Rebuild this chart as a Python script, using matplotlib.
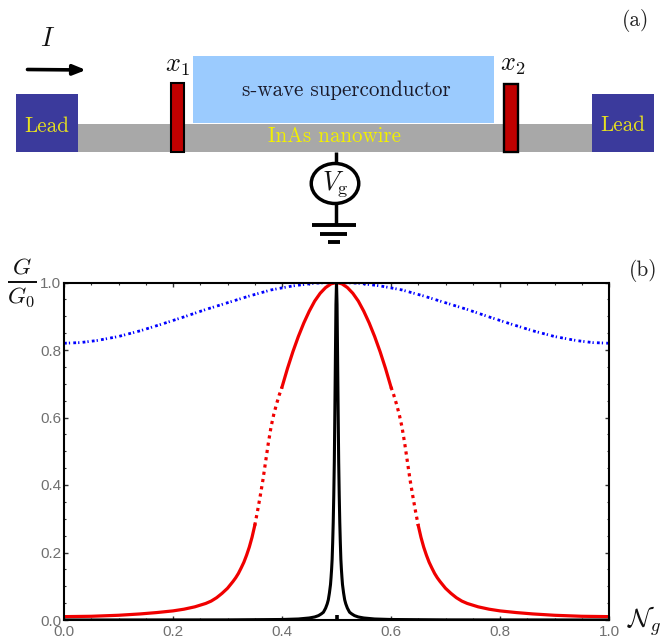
import matplotlib

matplotlib.use("Agg")
import matplotlib.pyplot as plt
from matplotlib.patches import Ellipse, Rectangle

plt.rcParams["mathtext.fontset"] = "cm"

WIDTH, HEIGHT = 662, 639

# conductance curves
blue_x = [0.0, 0.03, 0.06, 0.1, 0.14, 0.18, 0.22, 0.26, 0.3, 0.34, 0.38, 0.42, 0.46, 0.5,
          0.54, 0.58, 0.62, 0.66, 0.7, 0.74, 0.78, 0.82, 0.86, 0.9, 0.94, 0.97, 1.0]
blue_y = [0.820, 0.822, 0.828, 0.840, 0.857, 0.877, 0.898, 0.920, 0.940, 0.960, 0.978, 0.990, 0.998, 1.0,
          0.998, 0.990, 0.978, 0.960, 0.940, 0.920, 0.898, 0.877, 0.857, 0.840, 0.828, 0.822, 0.820]

red_left_x = [0.0, 0.05, 0.1, 0.14, 0.17, 0.2, 0.22, 0.24, 0.26, 0.27, 0.28, 0.29, 0.3, 0.305, 0.31,
              0.315, 0.32, 0.325, 0.33, 0.335, 0.34, 0.345, 0.35]
red_left_y = [0.010, 0.011, 0.014, 0.018, 0.022, 0.027, 0.032, 0.039, 0.049, 0.056, 0.066, 0.079, 0.094,
              0.104, 0.114, 0.125, 0.138, 0.154, 0.171, 0.192, 0.216, 0.245, 0.280]
red_dot_left_x = [0.35, 0.355, 0.36, 0.365, 0.37, 0.375, 0.38, 0.385, 0.39, 0.395, 0.4]
red_dot_left_y = [0.280, 0.322, 0.367, 0.415, 0.470, 0.525, 0.573, 0.610, 0.640, 0.667, 0.690]
red_top_x = [0.4, 0.41, 0.42, 0.43, 0.44, 0.45, 0.46, 0.47, 0.48, 0.49, 0.5,
             0.51, 0.52, 0.53, 0.54, 0.55, 0.56, 0.57, 0.58, 0.59, 0.6]
red_top_y = [0.690, 0.745, 0.795, 0.840, 0.880, 0.915, 0.945, 0.968, 0.985, 0.996, 1.0,
             0.996, 0.985, 0.968, 0.945, 0.915, 0.880, 0.840, 0.795, 0.745, 0.690]
red_dot_right_x = [0.6, 0.605, 0.61, 0.615, 0.62, 0.625, 0.63, 0.635, 0.64, 0.645, 0.65]
red_dot_right_y = [0.690, 0.667, 0.640, 0.610, 0.573, 0.525, 0.470, 0.415, 0.367, 0.322, 0.280]
red_right_x = [0.65, 0.655, 0.66, 0.665, 0.67, 0.675, 0.68, 0.685, 0.69, 0.695, 0.7, 0.71, 0.72, 0.73, 0.74,
               0.76, 0.78, 0.8, 0.83, 0.86, 0.9, 0.95, 1.0]
red_right_y = [0.280, 0.245, 0.216, 0.192, 0.171, 0.154, 0.138, 0.125, 0.114, 0.104, 0.094, 0.079, 0.066,
               0.056, 0.049, 0.039, 0.032, 0.027, 0.022, 0.018, 0.014, 0.011, 0.010]

black_x = [0.0, 0.3, 0.4, 0.43, 0.45, 0.46, 0.467, 0.472, 0.476, 0.48, 0.483, 0.485, 0.487, 0.489, 0.49,
           0.491, 0.492, 0.493, 0.494, 0.495, 0.496, 0.497, 0.498, 0.499, 0.5,
           0.501, 0.502, 0.503, 0.504, 0.505, 0.506, 0.507, 0.508, 0.509, 0.51,
           0.511, 0.513, 0.515, 0.517, 0.52, 0.524, 0.528, 0.533, 0.54, 0.55, 0.57, 0.6, 0.7, 1.0]
black_y = [0.0, 0.0004, 0.0015, 0.003, 0.006, 0.009, 0.013, 0.018, 0.023, 0.035, 0.048, 0.06, 0.08, 0.105, 0.126,
           0.15, 0.18, 0.23, 0.29, 0.37, 0.47, 0.62, 0.78, 0.935, 1.0,
           0.935, 0.78, 0.62, 0.47, 0.37, 0.29, 0.23, 0.18, 0.15, 0.126,
           0.105, 0.08, 0.06, 0.048, 0.035, 0.023, 0.018, 0.013, 0.009, 0.006, 0.003, 0.0015, 0.0004, 0.0]

major_ticks = [0.0, 0.2, 0.4, 0.6, 0.8, 1.0]
minor_ticks = [0.05, 0.1, 0.15, 0.25, 0.3, 0.35, 0.45, 0.5, 0.55, 0.65, 0.7, 0.75, 0.85, 0.9, 0.95]
tick_labels = ["0.0", "0.2", "0.4", "0.6", "0.8", "1.0"]

fig = plt.figure(figsize=(WIDTH / 100, HEIGHT / 100), dpi=100)

# overlay in pixel coordinates, holds the device sketch and the free labels
sketch = fig.add_axes([0, 0, 1, 1])
sketch.set_xlim(0, WIDTH)
sketch.set_ylim(HEIGHT, 0)
sketch.axis("off")


def box(x0, x1, y0, y1, color, **kwargs):
    sketch.add_patch(Rectangle((x0, y0), x1 - x0, y1 - y0, facecolor=color, **kwargs))


box(77, 592, 124, 151.5, "#a8a8a8", linewidth=0)
box(15.5, 77.5, 93.5, 151.5, "#3b3a9c", linewidth=0)
box(592, 654, 93.5, 151.5, "#3b3a9c", linewidth=0)
box(193, 493.5, 56, 123, "#9bcbfe", linewidth=0)
box(170.5, 184, 83, 152, "#c00000", edgecolor="black", linewidth=1.5)
box(504, 518, 84, 152, "#c00000", edgecolor="black", linewidth=1.7)

sketch.annotate("", xy=(86, 70), xytext=(27.5, 69.5),
                arrowprops=dict(arrowstyle="-|>,head_length=0.75,head_width=0.3", color="black", lw=2.6,
                                shrinkA=0, shrinkB=0))

sketch.plot([335.5, 335.5], [152, 225], color="black", lw=2.5, solid_capstyle="butt")
sketch.add_patch(Ellipse((335, 183.5), 47.5, 40, facecolor="white", edgecolor="black", lw=2.5, zorder=3))
sketch.plot([312, 355.5], [225, 225], color="black", lw=2.8, solid_capstyle="butt")
sketch.plot([320, 347], [233.5, 233.5], color="black", lw=2.8, solid_capstyle="butt")
sketch.plot([328, 340], [241.5, 241.5], color="black", lw=2.8, solid_capstyle="butt")

serif = dict(family="cmr10", ha="center", va="center")
sketch.text(47, 126, "Lead", color="#e6e020", fontsize=15.2, **serif)
sketch.text(623, 125.5, "Lead", color="#e6e020", fontsize=15.2, **serif)
sketch.text(335, 136.5, "InAs nanowire", color="#f2f000", fontsize=15.1, **serif)
sketch.text(346.5, 90, "s-wave superconductor", color="#1a1a2a", fontsize=15.1, **serif)
sketch.text(636, 21, "(a)", color="#222222", fontsize=15.3, **serif)
sketch.text(643.5, 270, "(b)", color="#222222", fontsize=15.3, **serif)

math = dict(ha="center", va="center", color="#111111")
sketch.text(48, 39, r"$I$", fontsize=19, **math)
sketch.text(177, 65, r"$x_1$", fontsize=19, **math)
sketch.text(513, 64, r"$x_2$", fontsize=19, **math)
sketch.text(335, 184, r"$V_{\mathrm{g}}$", fontsize=19, zorder=4, **math)
sketch.text(22, 282, r"$\frac{G}{G_0}$", fontsize=24, **math)
sketch.text(627, 628, r"$\mathcal{N}_g$", fontsize=19, ha="left", va="baseline", color="#111111")

# conductance panel
ax = fig.add_axes([64 / WIDTH, 1 - 620 / HEIGHT, 545 / WIDTH, 337.5 / HEIGHT])
ax.patch.set_alpha(0)
ax.plot(blue_x, blue_y, color="#0000ff", lw=2.0, dashes=(1.0, 0.75, 0.45, 1.15), dash_capstyle="butt")
ax.plot(red_left_x, red_left_y, color="#f00000", lw=2.3)
ax.plot(red_dot_left_x, red_dot_left_y, color="#f00000", lw=2.3, dashes=(1.0, 1.3))
ax.plot(red_top_x, red_top_y, color="#f00000", lw=2.3)
ax.plot(red_dot_right_x, red_dot_right_y, color="#f00000", lw=2.3, dashes=(1.0, 1.3))
ax.plot(red_right_x, red_right_y, color="#f00000", lw=2.3)
ax.plot(black_x, black_y, color="black", lw=2.2)
# the stub under the peak in the reference
ax.plot([0.5, 0.5], [0.0, 0.016], color="black", lw=2.6, solid_capstyle="butt")

ax.set_xlim(0, 1)
ax.set_ylim(0, 1)
for axis in (ax.xaxis, ax.yaxis):
    axis.set_ticks(major_ticks)
    axis.set_ticklabels(tick_labels)
    axis.set_ticks(minor_ticks, minor=True)
ax.tick_params(which="major", direction="in", length=3, width=1, color="#333333", top=True, right=True,
               labelsize=11, labelcolor="#707070", labelfontfamily="Liberation Sans", pad=2)
ax.tick_params(axis="x", which="major", pad=3.5)
ax.tick_params(which="minor", direction="in", length=1.7, width=0.8, color="#333333", top=True, right=True)
for spine in ax.spines.values():
    spine.set_linewidth(1.5)

fig.savefig("out.png", dpi=100)
plt.close(fig)
